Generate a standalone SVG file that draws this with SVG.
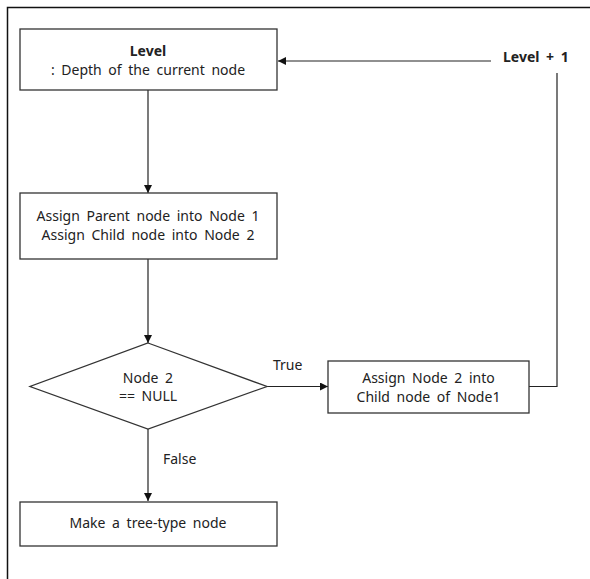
<svg xmlns="http://www.w3.org/2000/svg" width="590" height="579" viewBox="0 0 590 579">
<style>
.box{fill:#fff;stroke:#333;stroke-width:1.3}
.ln{fill:none;stroke:#222;stroke-width:1.2}
text{font-family:"Noto Sans","Open Sans",sans-serif;font-size:14px;word-spacing:3px;fill:#222;text-anchor:middle}
.b{font-weight:bold}
.l{text-anchor:start}
</style>
<defs>
<marker id="ah" viewBox="0 0 10 10" refX="10" refY="5" markerWidth="8" markerHeight="8" markerUnits="userSpaceOnUse" orient="auto">
<path d="M0,0 L10,5 L0,10 z" fill="#111"/>
</marker>
</defs>
<rect x="0" y="0" width="590" height="579" fill="#fff"/>
<path d="M7.5,579 V7.5 H590" fill="none" stroke="#111" stroke-width="1.5"/>
<g id="connectors">
<path class="ln" d="M148,90 V193" marker-end="url(#ah)"/>
<path class="ln" d="M148,259 V343" marker-end="url(#ah)"/>
<path class="ln" d="M267,386.5 H328" marker-end="url(#ah)"/>
<path class="ln" d="M148,429 V501" marker-end="url(#ah)"/>
<path class="ln" d="M529,386.5 H557 V73"/>
<path class="ln" d="M491,61 H278" marker-end="url(#ah)"/>
<text x="273" y="370" class="l">True</text>
<text x="163" y="464" class="l">False</text>
<text x="503" y="62" class="l b">Level + 1</text>
</g>
<g id="level">
<rect class="box" x="20" y="29" width="257" height="61"/>
<text x="148" y="56" class="b">Level</text>
<text x="148" y="75">: Depth of the current node</text>
</g>
<g id="assign">
<rect class="box" x="20" y="193" width="257" height="66"/>
<text x="148" y="221">Assign Parent node into Node 1</text>
<text x="148" y="240">Assign Child node into Node 2</text>
</g>
<g id="decision">
<polygon class="box" points="148,343 267,386.5 148,429 30,386.5"/>
<text x="148" y="383">Node 2</text>
<text x="148" y="401">== NULL</text>
</g>
<g id="assign2">
<rect class="box" x="328" y="361" width="201" height="52"/>
<text x="428.5" y="383">Assign Node 2 into</text>
<text x="428.5" y="402">Child node of Node1</text>
</g>
<g id="make">
<rect class="box" x="20" y="502" width="257" height="44"/>
<text x="148" y="528">Make a tree-type node</text>
</g>
</svg>
